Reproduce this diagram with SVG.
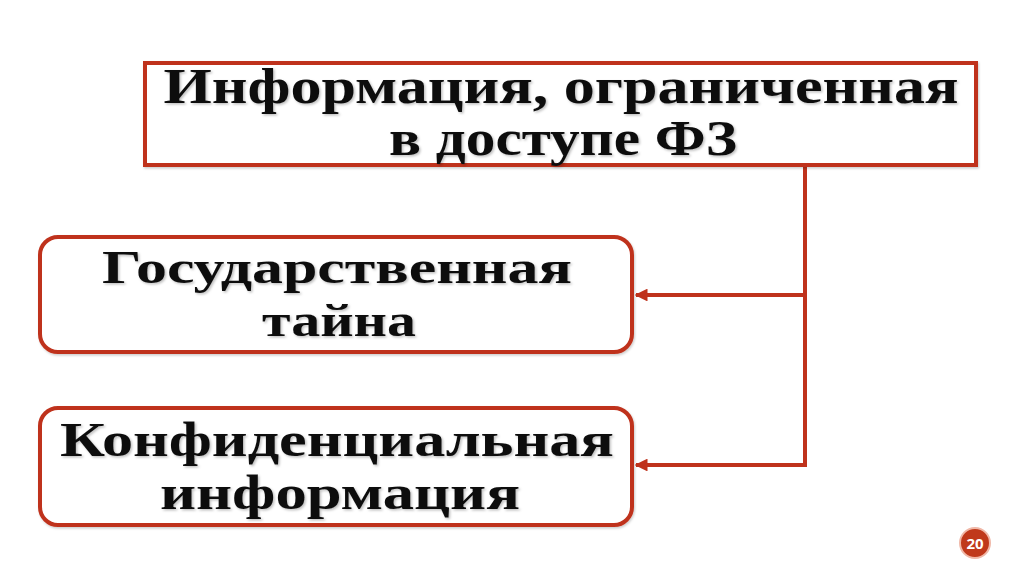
<svg xmlns="http://www.w3.org/2000/svg" width="1024" height="574" viewBox="0 0 1024 574">
<style>
.box{fill:#fff;stroke:#bf321c;stroke-width:4}
.conn{fill:none;stroke:#bf321c;stroke-width:4}
.t{font-family:"Liberation Serif","Times New Roman",serif;font-weight:bold;fill:#111;text-anchor:middle;filter:url(#sh)}
</style>
<defs>
<filter id="sh" x="-5%" y="-20%" width="110%" height="140%">
<feDropShadow dx="1.5" dy="1.5" stdDeviation="0.8" flood-color="#000" flood-opacity="0.25"/>
</filter>
<filter id="bs" x="-5%" y="-10%" width="110%" height="130%">
<feDropShadow dx="1" dy="1.5" stdDeviation="1.2" flood-color="#000" flood-opacity="0.2"/>
</filter>
<marker id="ah" viewBox="0 0 10 10" refX="9" refY="5" markerWidth="3.2" markerHeight="3.2" orient="auto">
<path d="M0,0 L10,5 L0,10 z" fill="#bf321c"/>
</marker>
</defs>
<rect width="1024" height="574" fill="#fff"/>
<g id="connectors">
<path class="conn" d="M805,165 V465"/>
<path class="conn" d="M807,295 H636" marker-end="url(#ah)"/>
<path class="conn" d="M807,465 H636" marker-end="url(#ah)"/>
</g>
<g id="top">
<rect class="box" x="145" y="63" width="831" height="102" filter="url(#bs)"/>
<text class="t" x="561" y="103" font-size="51" textLength="795" lengthAdjust="spacingAndGlyphs">Информация, ограниченная</text>
<text class="t" x="563" y="155" font-size="51" textLength="348" lengthAdjust="spacingAndGlyphs">в доступе ФЗ</text>
</g>
<g id="state">
<rect class="box" x="40" y="237" width="592" height="115" rx="18" filter="url(#bs)"/>
<text class="t" x="337" y="283" font-size="47" textLength="470" lengthAdjust="spacingAndGlyphs">Государственная</text>
<text class="t" x="339" y="336" font-size="47" textLength="154" lengthAdjust="spacingAndGlyphs">тайна</text>
</g>
<g id="conf">
<rect class="box" x="40" y="408" width="592" height="117" rx="18" filter="url(#bs)"/>
<text class="t" x="337" y="456" font-size="49" textLength="554" lengthAdjust="spacingAndGlyphs">Конфиденциальная</text>
<text class="t" x="340" y="509" font-size="49" textLength="360" lengthAdjust="spacingAndGlyphs">информация</text>
</g>
<g id="page">
<circle cx="975" cy="543" r="15" fill="#c0391b" stroke="#f0b8a8" stroke-width="2"/>
<text x="975" y="548.5" font-family="'Open Sans','Noto Sans',sans-serif" font-size="15" font-weight="bold" fill="#fff" text-anchor="middle">20</text>
</g>
</svg>
